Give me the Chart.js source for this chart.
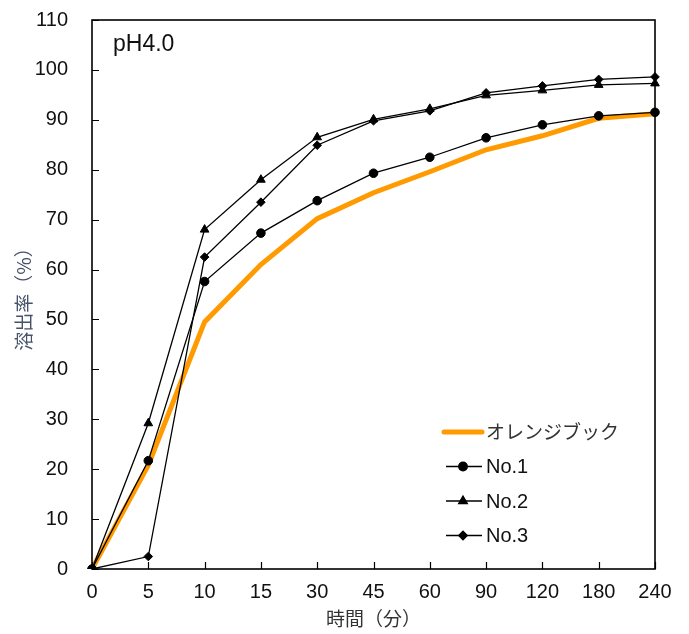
<!DOCTYPE html>
<html>
<head>
<meta charset="utf-8">
<script src="https://cdn.jsdelivr.net/npm/chart.js@4.4.1/dist/chart.umd.min.js"></script>
<style>
  html, body { margin: 0; padding: 0; background: #fff; }
  #wrap { position: relative; width: 689px; height: 634px; }
</style>
</head>
<body>
<div id="wrap"><canvas id="chart" width="689" height="634"></canvas></div>
<script>
// 時間（分）
const times = ['0', '5', '10', '15', '30', '45', '60', '90', '120', '180', '240'];
const seriesNames = ['オレンジブック', 'No.1', 'No.2', 'No.3'];
const orangeBook = [0, 20.8, 49.5, 61, 70.2, 75.4, 79.6, 84.0, 86.8, 90.3, 91.2];
const no1 = [0, 21.7, 57.6, 67.3, 73.8, 79.3, 82.5, 86.4, 89.0, 90.8, 91.5];
const no2 = [0, 29.2, 68.0, 78.0, 86.5, 90.1, 92.2, 94.9, 95.9, 97.0, 97.3];
const no3 = [0, 2.5, 62.5, 73.5, 84.9, 89.8, 91.8, 95.4, 96.8, 98.1, 98.6];
const yTicks = [0, 10, 20, 30, 40, 50, 60, 70, 80, 90, 100, 110];

const markerStyles = [false, 'circle', 'triangle', 'rectRot'];
const FONT = "'Liberation Sans', Arial, sans-serif";
const CJK = "'Noto Sans CJK JP', sans-serif";

const boxAndLegend = {
    id: 'boxAndLegend',
    afterDatasetsDraw(chart) {
        const ctx = chart.ctx;
        const a = chart.chartArea;
        const xs = chart.scales.x;
        const ys = chart.scales.y;
        ctx.save();
        // frame
        ctx.strokeStyle = '#000';
        ctx.lineWidth = 1.6;
        ctx.strokeRect(a.left, a.top, a.right - a.left, a.bottom - a.top);
        // inward ticks
        ctx.lineWidth = 1.2;
        ctx.beginPath();
        xs.ticks.forEach((t, i) => {
            const px = Math.round(xs.getPixelForTick(i)) + 0.5;
            ctx.moveTo(px, a.bottom);
            ctx.lineTo(px, a.bottom - 7);
        });
        ys.ticks.forEach((t, i) => {
            const py = Math.round(ys.getPixelForTick(i)) + 0.5;
            ctx.moveTo(a.left, py);
            ctx.lineTo(a.left + 7, py);
        });
        ctx.stroke();

        // pH label
        ctx.fillStyle = '#111';
        ctx.font = '23px ' + FONT;
        ctx.textBaseline = 'middle';
        ctx.fillText('pH4.0', a.left + 21, a.top + 25);

        // legend
        const lx = a.left + 352;
        const ly0 = a.top + 412;
        const gap = 34.5;
        chart.data.datasets.forEach((ds, i) => {
            const y = ly0 + i * gap;
            ctx.beginPath();
            ctx.strokeStyle = ds.borderColor;
            ctx.lineWidth = i === 0 ? 5 : 1.3;
            ctx.lineCap = i === 0 ? 'round' : 'butt';
            ctx.moveTo(lx + (i === 0 ? 0 : 2), y);
            ctx.lineTo(lx + 38, y);
            ctx.stroke();
            if (ds.pointStyle) {
                Chart.helpers.drawPoint(ctx, {
                    pointStyle: ds.pointStyle,
                    radius: ds.pointRadius,
                    rotation: 0,
                    borderWidth: 1
                }, lx + 19, y);
                ctx.fillStyle = '#000';
                ctx.fill();
            }
            ctx.fillStyle = i === 0 ? '#333' : '#111';
            ctx.font = (i === 0 ? '19px ' + CJK : '20px ' + FONT);
            ctx.textBaseline = 'middle';
            ctx.fillText(ds.label, lx + 42, y + (i === 0 ? 0 : 1));
        });
        ctx.restore();
    }
};

const values = [orangeBook, no1, no2, no3];
const datasets = seriesNames.map((name, i) => ({
    label: name,
    data: values[i],
    borderColor: i === 0 ? '#ff9a00' : '#000',
    backgroundColor: '#000',
    borderWidth: i === 0 ? 5 : 1.3,
    pointStyle: markerStyles[i],
    pointRadius: i === 0 ? 0 : (i === 2 ? 5 : 4.3),
    pointBorderWidth: 1,
    order: i === 0 ? 10 : 4 - i,
    tension: 0
}));

new Chart(document.getElementById('chart'), {
    type: 'line',
    data: { labels: times, datasets: datasets },
    options: {
        responsive: false,
        animation: false,
        layout: { padding: { left: 0, top: 20, right: 34, bottom: 0 } },
        plugins: { legend: { display: false }, tooltip: { enabled: false } },
        scales: {
            x: {
                offset: false,
                grid: { display: false, drawTicks: false },
                border: { display: false },
                ticks: {
                    color: '#111',
                    font: { family: FONT, size: 20 },
                    padding: 11,
                    maxRotation: 0,
                    autoSkip: false
                },
                title: {
                    display: true,
                    text: '時間（分）',
                    color: '#333',
                    font: { family: CJK, size: 19 },
                    padding: { top: 0, bottom: 4 }
                },
                afterFit(scale) { scale.height = 65; }
            },
            y: {
                min: 0,
                max: 110,
                afterBuildTicks(scale) { scale.ticks = yTicks.map(v => ({ value: v })); },
                grid: { display: false, drawTicks: false },
                border: { display: false },
                ticks: {
                    color: '#111',
                    font: { family: FONT, size: 20 },
                    padding: 24
                },
                title: {
                    display: true,
                    text: '溶出率（%）',
                    color: '#46526a',
                    font: { family: CJK, size: 19 },
                    padding: { top: 12, bottom: 0 }
                },
                afterFit(scale) {
                    scale.width = 92;
                    scale.paddingTop = 0;
                    scale.paddingBottom = 0;
                }
            }
        }
    },
    plugins: [boxAndLegend]
});
</script>
</body>
</html>
